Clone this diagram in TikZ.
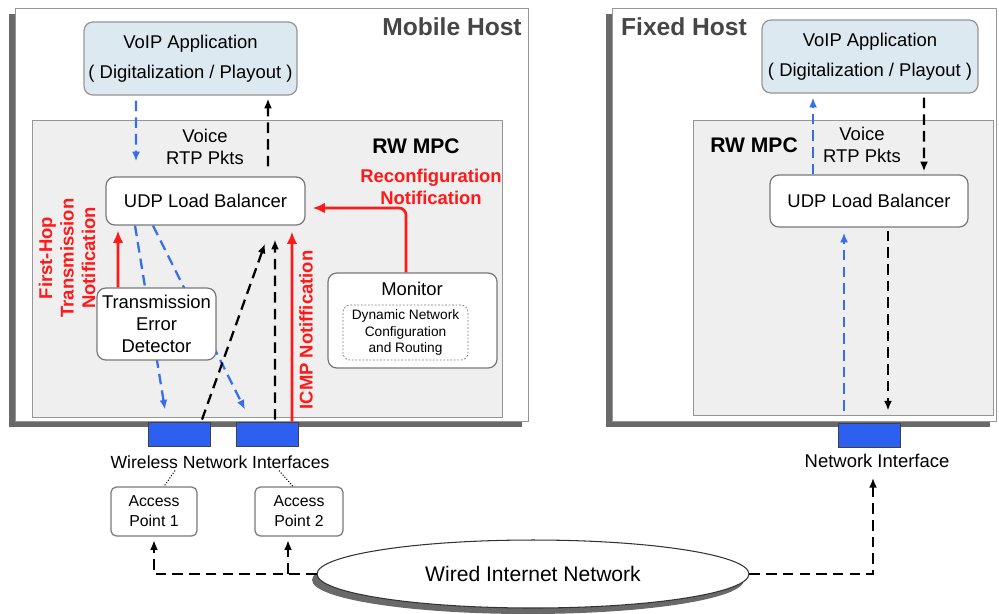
\documentclass[tikz,border=0pt]{standalone}
\usepackage{fontspec}
\setmainfont{Liberation Sans}
\usetikzlibrary{shapes.geometric, arrows.meta}

\definecolor{appblue}{RGB}{220,233,241}
\definecolor{mpcgray}{RGB}{239,239,239}
\definecolor{linegray}{RGB}{150,150,150}
\definecolor{shadowgray}{RGB}{105,105,105}
\definecolor{titlegray}{RGB}{70,70,70}
\definecolor{nicblue}{RGB}{45,95,240}
\definecolor{pktblue}{RGB}{55,110,240}
\definecolor{notered}{RGB}{255,25,25}

\begin{document}
\begin{tikzpicture}[x=0.02cm, y=-0.02cm, >={Latex[length=5.5pt,width=4.5pt]},
    txt/.style={font=\fontsize{10.5}{12.5}\selectfont, align=center, inner sep=1pt},
    title/.style={font=\fontsize{14}{16}\selectfont\bfseries, text=titlegray, inner sep=1pt},
    mpctitle/.style={font=\fontsize{12}{14}\selectfont\bfseries, inner sep=1pt},
    redtxt/.style={font=\fontsize{10.5}{12.2}\selectfont\bfseries, text=notered, align=center, inner sep=1pt},
    appbox/.style={draw=linegray, fill=appblue, rounded corners=5pt, line width=0.7pt, txt,
        font=\fontsize{10.5}{17}\selectfont},
    box/.style={draw=linegray!80!black, fill=white, rounded corners=5pt, line width=0.7pt, txt},
    apbox/.style={box, rounded corners=3pt, font=\fontsize{9}{11.4}\selectfont},
    nic/.style={draw=black!75, fill=nicblue, line width=0.5pt, minimum width=1.24cm, minimum height=0.48cm},
    pkt/.style={->, pktblue, line width=1.3pt, dash pattern=on 6pt off 3.5pt},
    ret/.style={->, black, line width=1.3pt, dash pattern=on 6pt off 3.5pt},
    note/.style={-{Latex[length=7pt,width=6pt]}, notered, line width=1.5pt}]

    \useasboundingbox (0,0) rectangle (999,613);

    % 移动主机
    \fill[shadowgray] (9,14) rectangle (522,427);
    \draw[linegray, fill=white] (15,8) rectangle (528,421);
    \node[title] (mh) at (452,27) {Mobile Host};
    \draw[linegray, fill=mpcgray] (32,120) rectangle (502,417);
    \node[mpctitle] (mpc1) at (416,146) {RW MPC};

    % 固定主机
    \fill[shadowgray] (606,14) rectangle (990,427);
    \draw[linegray, fill=white] (612,8) rectangle (996,421);
    \node[title] (fh) at (684,27) {Fixed Host};
    \draw[linegray, fill=mpcgray] (693,120) rectangle (993,415);
    \node[mpctitle] (mpc2) at (754,145) {RW MPC};

    % 应用与负载均衡
    \node[appbox, minimum width=4.26cm, minimum height=1.46cm] (app1) at (190.5,58.5)
        {VoIP Application\\( Digitalization / Playout )};
    \node[appbox, minimum width=4.32cm, minimum height=1.46cm] (app2) at (870,56.5)
        {VoIP Application\\( Digitalization / Playout )};
    \node[box, minimum width=3.98cm, minimum height=0.96cm] (udp1) at (205.5,201) {UDP Load Balancer};
    \node[box, minimum width=3.96cm, minimum height=1.04cm] (udp2) at (869,201) {UDP Load Balancer};
    \node[txt] (rtp1) at (205,147) {Voice\\RTP Pkts};
    \node[txt] (rtp2) at (862,145) {Voice\\RTP Pkts};

    % 网络接口
    \node[nic] (nic1) at (179,434) {};
    \node[nic] (nic2) at (267,434) {};
    \node[nic] (nic3) at (869,435) {};
    \node[txt, font=\fontsize{10}{12}\selectfont] (wni) at (220,462) {Wireless Network Interfaces};
    \node[txt] (ni) at (877,461) {Network Interface};

    % 下行语音包 (在检测器后面)
    \draw[pkt] ([xshift=-1.41cm]udp1.south) -- ([xshift=-0.28cm,yshift=0.24cm]nic1.north);
    \draw[pkt] ([xshift=-1.05cm]udp1.south) -- ([xshift=-0.44cm,yshift=0.24cm]nic2.north);

    \node[box, minimum width=2.38cm, minimum height=1.44cm] (ted) at (156.5,324)
        {Transmission\\Error\\Detector};
    \node[box, minimum width=3.38cm, minimum height=1.9cm] (mon) at (412.5,320.5) {};
    \node[txt] (monlbl) at (412,289) {Monitor};
    \node[draw=linegray!80!black, dash pattern=on 1pt off 1pt, rounded corners=4pt, align=center,
        font=\fontsize{7.8}{9.4}\selectfont, minimum width=2.5cm, minimum height=1.1cm,
        inner sep=1pt] (dyn) at (405.5,332.5) {Dynamic Network\\Configuration\\and Routing};

    % 移动主机内的箭头
    \draw[pkt] ([xshift=-1.09cm,yshift=-0.1cm]app1.south) -- ([xshift=-1.39cm,yshift=0.3cm]udp1.north);
    \draw[ret] ([xshift=1.25cm,yshift=0.2cm]udp1.north) -- ([xshift=1.55cm,yshift=-0.06cm]app1.south);
    \draw[ret] ([xshift=0.46cm,yshift=0.04cm]nic1.north) -- ([xshift=1.19cm,yshift=-0.36cm]udp1.south);
    \draw[ret] ([xshift=0.16cm,yshift=0.04cm]nic2.north) -- ([xshift=1.39cm,yshift=-0.28cm]udp1.south);
    \draw[note] ([xshift=0.5cm]nic2.north) -- ([xshift=1.73cm,yshift=-0.12cm]udp1.south);
    \draw[note] ([xshift=-0.77cm]ted.north) -- ([xshift=-1.75cm,yshift=-0.1cm]udp1.south);
    \draw[note, rounded corners=4pt] ([xshift=-0.13cm]mon.north) |- ([xshift=0.14cm,yshift=-0.14cm]udp1.east);

    % 红色说明
    \node[redtxt] (reconf) at (431,187) {Reconfiguration\\Notification};
    \node[redtxt, rotate=90] (fhop) at (67,258) {First-Hop\\Transmission\\Notification};
    \node[redtxt, rotate=90] (icmp) at (306,330) {ICMP Notiffication};

    % 固定主机内的箭头
    \draw[pkt] ([xshift=-1.12cm]udp2.north) -- ([xshift=-1.14cm,yshift=-0.08cm]app2.south);
    \draw[ret] ([xshift=1.08cm,yshift=-0.08cm]app2.south) -- ([xshift=1.1cm,yshift=0.06cm]udp2.north);
    \draw[pkt] ([xshift=-0.5cm,yshift=0.24cm]nic3.north) -- ([xshift=-0.5cm,yshift=-0.1cm]udp2.south);
    \draw[ret] ([xshift=0.38cm,yshift=-0.06cm]udp2.south) -- ([xshift=0.38cm,yshift=0.24cm]nic3.north);

    % 接入点与有线网络
    \node[apbox, minimum width=1.72cm, minimum height=0.98cm] (ap1) at (154,511.5) {Access\\Point 1};
    \node[apbox, minimum width=1.76cm, minimum height=0.98cm] (ap2) at (299,511.5) {Access\\Point 2};
    \draw[densely dotted, line width=0.6pt] ([xshift=-0.9cm]wni.south) -- ([xshift=0.2cm]ap1.north);
    \draw[densely dotted, line width=0.6pt] ([xshift=1.18cm]wni.south) -- ([xshift=-0.12cm]ap2.north);

    \node[ellipse, fill=shadowgray, minimum width=8.64cm, minimum height=1.36cm] (inetshadow) at (528,580) {};
    \node[ellipse, draw=black!80, fill=white, line width=0.6pt, minimum width=8.64cm, minimum height=1.36cm,
        font=\fontsize{12}{14}\selectfont] (inet) at (533,574) {Wired Internet Network};

    \draw[ret, shorten >=2pt] (inet.west) -| (ap1.south);
    \draw[ret, shorten >=2pt] ([xshift=-0.22cm]ap2.south |- inet.west) -- ([xshift=-0.22cm]ap2.south);
    \draw[ret] (inet.east) -| ([xshift=-0.08cm,yshift=-0.16cm]ni.south);
\end{tikzpicture}
\end{document}
